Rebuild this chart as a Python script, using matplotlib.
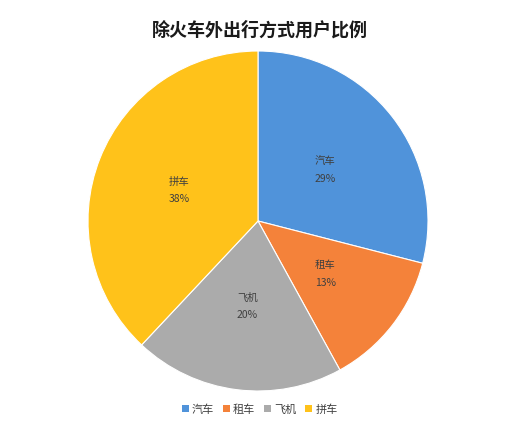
import matplotlib
matplotlib.use('Agg')
import matplotlib.pyplot as plt
from matplotlib.patches import Patch

plt.rcParams['font.family'] = ['Noto Sans CJK SC', 'DejaVu Sans']

labels = ['汽车', '租车', '飞机', '拼车']
shares = [29, 13, 20, 38]
colors = ['#5093DA', '#F4823A', '#ABABAB', '#FFC21A']

fig = plt.figure(figsize=(5.3, 4.27), dpi=100)
# pie: center ~(258,222) px, radius ~170 px
ax = fig.add_axes([88/530, (427-222-170)/427, 340/530, 340/427])

wedges, texts = ax.pie(shares, colors=colors, startangle=90, counterclock=False,
                       radius=1.0, wedgeprops=dict(edgecolor='white', linewidth=0.8),
                       labels=None)
ax.set_xlim(-1, 1)
ax.set_ylim(-1, 1)
ax.set_aspect('equal')
ax.axis('off')

import numpy as np
start = 90.0
for lab, v in zip(labels, shares):
    mid = start - v * 3.6 / 2
    start -= v * 3.6
    x = 0.5 * np.cos(np.radians(mid))
    y = 0.5 * np.sin(np.radians(mid))
    ax.text(x, y, lab + '\n' + '%d%%' % v, ha='center', va='center',
            fontsize=7.5, color='#404040', linespacing=1.9)

fig.text(0.49, 1 - 30/427, '除火车外出行方式用户比例', ha='center', va='center',
         fontsize=13, fontweight='bold', color='#1a1a1a')

handles = [Patch(facecolor=c, edgecolor='none') for c in colors]
fig.legend(handles, labels, loc='center', bbox_to_anchor=(0.49, 1 - 410/427),
           ncol=4, frameon=False, fontsize=8, handlelength=0.6, handleheight=0.6,
           handletextpad=0.3, columnspacing=0.8, labelcolor='#404040')

fig.savefig('out.png', dpi=100, facecolor='white')
